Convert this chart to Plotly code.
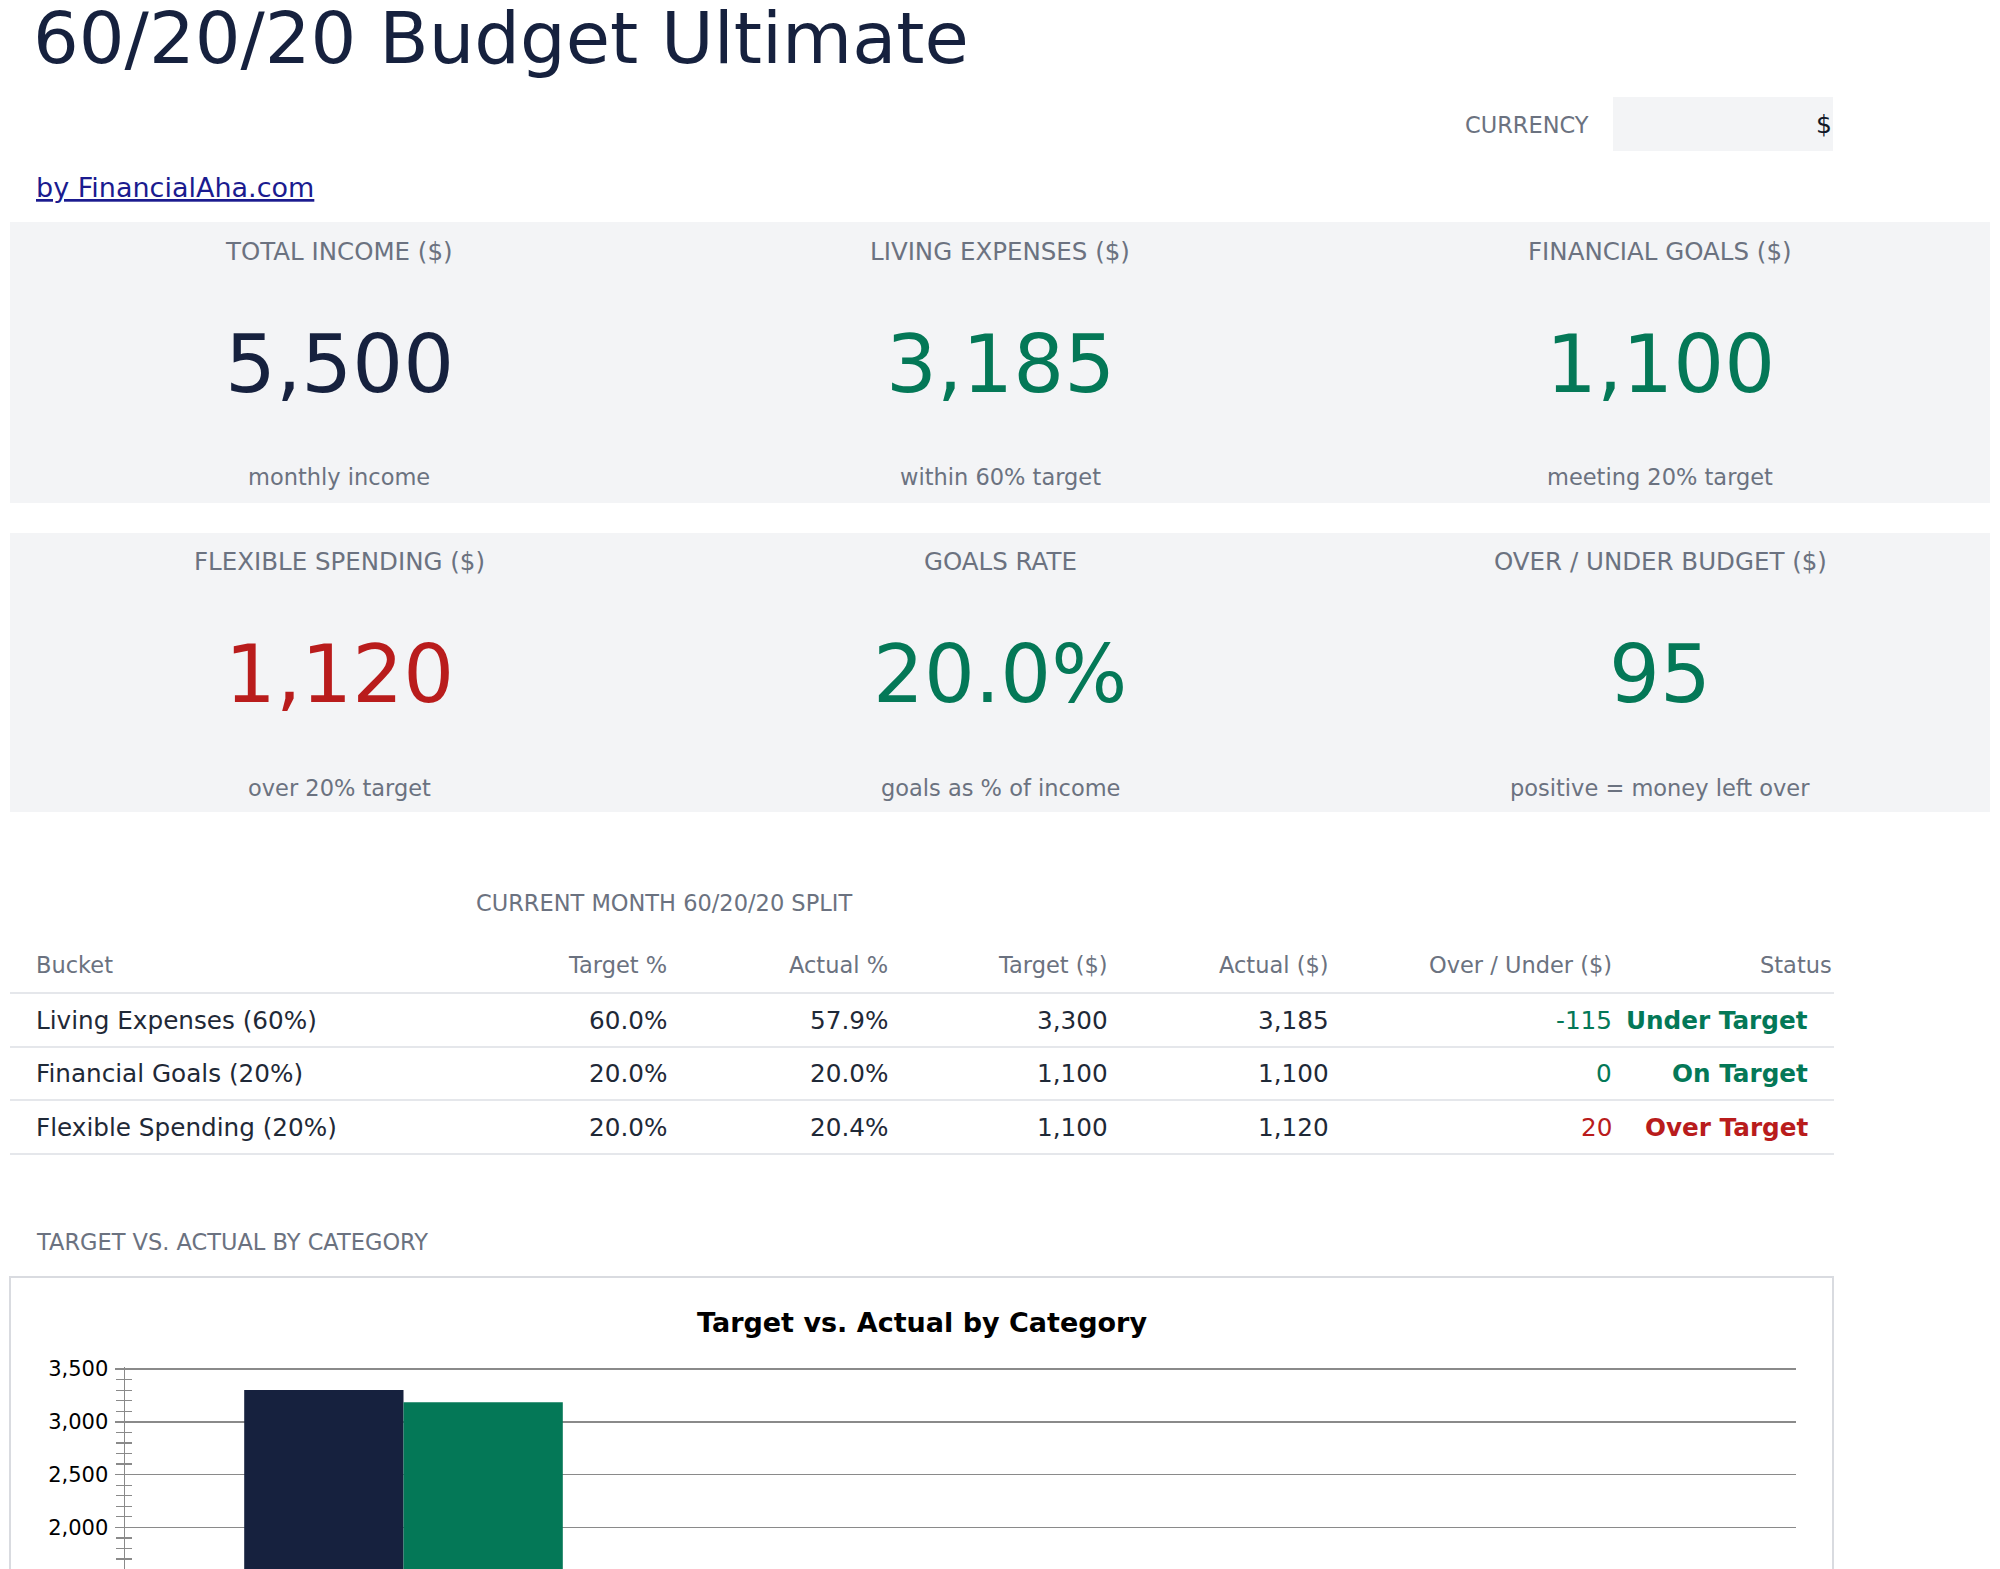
import plotly.graph_objects as go

# ---------------- data ----------------
page_title = "60/20/20 Budget Ultimate"
byline = "by FinancialAha.com"
currency_label = "CURRENCY"
currency_symbol = "$"

kpi_labels = ["TOTAL INCOME ($)", "LIVING EXPENSES ($)", "FINANCIAL GOALS ($)",
              "FLEXIBLE SPENDING ($)", "GOALS RATE", "OVER / UNDER BUDGET ($)"]
kpi_values = ["5,500", "3,185", "1,100", "1,120", "20.0%", "95"]
kpi_subs = ["monthly income", "within 60% target", "meeting 20% target",
            "over 20% target", "goals as % of income", "positive = money left over"]
kpi_tones = ["neutral", "good", "good", "bad", "good", "good"]

table_title = "CURRENT MONTH 60/20/20 SPLIT"
table_headers = ["Bucket", "Target %", "Actual %", "Target ($)", "Actual ($)", "Over / Under ($)", "Status"]
buckets = ["Living Expenses (60%)", "Financial Goals (20%)", "Flexible Spending (20%)"]
target_pct = [60.0, 20.0, 20.0]
actual_pct = [57.9, 20.0, 20.4]
target_usd = [3300, 1100, 1100]
actual_usd = [3185, 1100, 1120]
over_under = [-115, 0, 20]
status = ["Under Target", "On Target", "Over Target"]

chart_section = "TARGET VS. ACTUAL BY CATEGORY"
chart_title = "Target vs. Actual by Category"
chart_categories = ["Living Expenses", "Financial Goals", "Flexible Spending"]
series_names = ["Target", "Actual"]
y_tick_step = 500
y_minor_step = 100
y_axis_top = 3500

# ---------------- style ----------------
W, H = 2000, 1569
FONT = "DejaVu Sans"
NAVY = "#16213e"
GREEN = "#047857"
RED = "#b91c1c"
GRAY = "#6b7280"
DARK = "#1f2937"
CARD = "#f3f4f6"
LINE = "#e5e7eb"
tone_color = {"neutral": NAVY, "good": GREEN, "bad": RED}


def px(x):
    return x / W


def py(y):
    return 1 - y / H


annotations = []
shapes = []


def text(t, x, y, size, color, xanchor="left", bold=False, **font_extra):
    if bold:
        t = "<b>" + t + "</b>"
    annotations.append(dict(
        text=t, x=px(x), y=py(y), xref="paper", yref="paper",
        xanchor=xanchor, yanchor="middle", showarrow=False,
        font=dict(family=FONT, size=size, color=color, **font_extra),
    ))


def rect(x0, y0, x1, y1, fill=None, line=None, lw=0, layer="below"):
    shapes.append(dict(
        type="rect", xref="paper", yref="paper",
        x0=px(x0), x1=px(x1), y0=py(y1), y1=py(y0),
        fillcolor=fill if fill else "rgba(0,0,0,0)",
        line=dict(color=line if line else "rgba(0,0,0,0)", width=lw),
        layer=layer,
    ))


def hline(x0, x1, y, color, lw):
    shapes.append(dict(type="line", xref="paper", yref="paper",
                       x0=px(x0), x1=px(x1), y0=py(y), y1=py(y),
                       line=dict(color=color, width=lw), layer="below"))


# header
text(page_title, 31, 38, 72, NAVY)
text(currency_label, 1591, 125, 22.5, GRAY, xanchor="right")
rect(1613, 97, 1833, 151, fill=CARD)
text(currency_symbol, 1834, 125, 25, "#111827", xanchor="right")
text(byline, 34, 187, 27, "#1b1b8f", lineposition="under")

# KPI cards
rect(10, 222, 1990, 503, fill=CARD)
rect(10, 533, 1990, 812, fill=CARD)
col_centers = [339, 1000, 1660]
row_y = [(251, 365, 477), (562, 675, 788)]
for i, (lab, val, sub, tone) in enumerate(zip(kpi_labels, kpi_values, kpi_subs, kpi_tones)):
    r, c = divmod(i, 3)
    ly, vy, sy = row_y[r]
    cx = col_centers[c]
    text(lab, cx, ly, 24.5, GRAY, xanchor="center")
    text(val, cx, vy, 80, tone_color[tone], xanchor="center")
    text(sub, cx, sy, 22.5, GRAY, xanchor="center")

# table
text(table_title, 474, 903, 22.5, GRAY)
col_x = [34, 669, 890, 1110, 1331, 1614, 1834]
col_anchor = ["left"] + ["right"] * 6
header_y = 965
for h, x, a in zip(table_headers, col_x, col_anchor):
    text(h, x, header_y, 22.5, GRAY, xanchor=a)
hline(10, 1834, 993, LINE, 2)
row_centers = [1020, 1073, 1127]
row_lines = [1047, 1100, 1154]
for i in range(len(buckets)):
    y = row_centers[i]
    ou_color = RED if over_under[i] > 0 else GREEN
    cells = [buckets[i], f"{target_pct[i]:.1f}%", f"{actual_pct[i]:.1f}%",
             f"{target_usd[i]:,}", f"{actual_usd[i]:,}"]
    for t, x, a in zip(cells, col_x[:5], col_anchor[:5]):
        text(t, x, y, 24.7, DARK, xanchor=a)
    text(f"{over_under[i]:,}", col_x[5], y, 24.7, ou_color, xanchor="right")
    text(status[i], 1810, y, 24.7, ou_color, xanchor="right", bold=True)
    hline(10, 1834, row_lines[i], LINE, 2)

# chart section
text(chart_section, 34, 1242, 22.5, GRAY)
rect(10, 1277, 1833, 1600, fill="white", line="#d9dbe0", lw=2)
text(chart_title, 921.5, 1322, 27, "#000000", xanchor="center", bold=True)

fig = go.Figure()
bar_colors = [NAVY, GREEN]
for name, vals, col in zip(series_names, [target_usd, actual_usd], bar_colors):
    fig.add_trace(go.Bar(x=chart_categories, y=vals, name=name,
                         marker=dict(color=col, line=dict(width=0)),
                         hoverinfo="skip"))
# invisible helper so the overlay axis (inner minor ticks) is drawn
fig.add_trace(go.Scatter(x=chart_categories[:1], y=target_usd[:1], yaxis="y2",
                         mode="markers", marker=dict(opacity=0), hoverinfo="skip",
                         showlegend=False))

px_per_unit = 52.8 / 500
y_top_val = y_axis_top + 1.6 / px_per_unit
plot_top = 1369 - 1.6
y_bottom_val = y_top_val - (H - plot_top) / px_per_unit
AX = "#8a8a8a"

fig.update_layout(
    width=W, height=H,
    margin=dict(l=0, r=0, t=0, b=0, pad=0, autoexpand=False),
    paper_bgcolor="white", plot_bgcolor="rgba(0,0,0,0)",
    showlegend=False,
    barmode="group", bargap=0.428, bargroupgap=0,
    font=dict(family=FONT, color="#000000"),
    annotations=annotations, shapes=shapes,
    xaxis=dict(domain=[px(125), px(1796)], showticklabels=False, ticks="",
               showgrid=False, zeroline=False, showline=False, fixedrange=True,
               automargin=False),
    yaxis=dict(domain=[0, py(plot_top)], range=[y_bottom_val, y_top_val],
               tickmode="linear", tick0=0, dtick=y_tick_step, tickformat=",",
               ticks="outside", ticklen=9, tickwidth=1.5, tickcolor=AX,
               showline=True, linecolor=AX, linewidth=1.5,
               showgrid=True, gridcolor=AX, gridwidth=1.5, zeroline=False,
               tickfont=dict(family=FONT, size=21, color="#000000"),
               ticklabelstandoff=2, automargin=False, fixedrange=True,
               minor=dict(dtick=y_minor_step, tick0=0, ticks="outside", ticklen=8,
                          tickwidth=1.2, tickcolor=AX, showgrid=False)),
    yaxis2=dict(overlaying="y", matches="y", side="left", anchor="x",
                showticklabels=False, showgrid=False, zeroline=False, showline=False,
                tickmode="linear", tick0=0, dtick=y_tick_step, ticks="", automargin=False,
                minor=dict(dtick=y_minor_step, tick0=0, ticks="inside", ticklen=7,
                           tickwidth=1.2, tickcolor=AX, showgrid=False)),
)

fig.write_html("out.html", config={"displayModeBar": False, "staticPlot": True},
               post_script="document.body.style.margin='0';document.body.style.overflow='hidden';")
